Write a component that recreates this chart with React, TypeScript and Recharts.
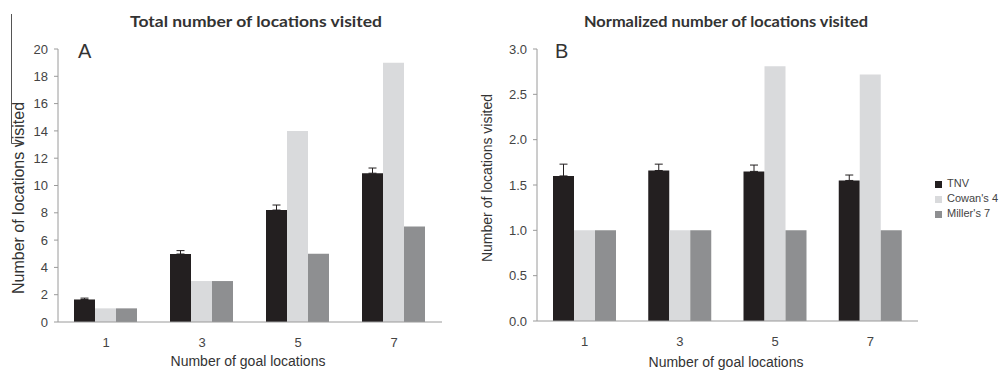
import React from 'react';
import { BarChart, Bar, XAxis, YAxis, ErrorBar, Legend } from 'recharts';

const goals = ['1', '3', '5', '7'];

// panel A - total locations visited
const tnvTotal = [1.65, 4.98, 8.2, 10.9];
const tnvTotalErr = [0.1, 0.25, 0.37, 0.38];
const cowanTotal = [1, 3, 14, 19];
const millerTotal = [1, 3, 5, 7];
const totalTicks = [0, 2, 4, 6, 8, 10, 12, 14, 16, 18, 20];

// panel B - normalized
const tnvNorm = [1.6, 1.66, 1.65, 1.55];
const tnvNormErr = [0.13, 0.07, 0.07, 0.06];
const cowanNorm = [1, 1, 2.81, 2.72];
const millerNorm = [1, 1, 1, 1];
const normTicks = [0, 0.5, 1, 1.5, 2, 2.5, 3];

const seriesOrder = ['TNV', "Cowan's 4", "Miller's 7"];

const BLACK = '#231f20';
const LIGHT = '#d9dadc';
const GRAY = '#8e8f91';
const AXIS = '#9a9a9a';
const FONT = '"Liberation Sans", Arial, sans-serif';

const totalData = goals.map((g, i) => ({
  goal: g,
  tnv: tnvTotal[i],
  err: tnvTotalErr[i],
  cowan: cowanTotal[i],
  miller: millerTotal[i],
}));

const normData = goals.map((g, i) => ({
  goal: g,
  tnv: tnvNorm[i],
  err: tnvNormErr[i],
  cowan: cowanNorm[i],
  miller: millerNorm[i],
}));

const tickStyle = { fontSize: 13, fill: '#444', fontFamily: FONT };

export default function App() {
  return (
    <div style={{ position: 'absolute', left: 0, top: 0, width: 1000, height: 372, background: '#fff', overflow: 'hidden' }}>
      <div style={{ position: 'absolute', left: 0, top: 0 }}>
        <BarChart
          width={460}
          height={372}
          data={totalData}
          margin={{ top: 49, right: 18, left: 0, bottom: 0 }}
          barCategoryGap={16}
          barGap={0}
        >
          <XAxis
            dataKey="goal"
            height={50}
            tickLine={false}
            tickMargin={10}
            stroke={AXIS}
            tick={tickStyle}
          />
          <YAxis
            width={58}
            domain={[0, 20]}
            ticks={totalTicks}
            interval={0}
            tickSize={4}
            tickMargin={6}
            stroke={AXIS}
            tick={tickStyle}
          />
          <Bar dataKey="tnv" name="TNV" fill={BLACK} isAnimationActive={false}>
            <ErrorBar dataKey={(d: any) => [0, d.err]} width={4} stroke={BLACK} strokeWidth={1} direction="y" />
          </Bar>
          <Bar dataKey="cowan" name="Cowan's 4" fill={LIGHT} isAnimationActive={false} />
          <Bar dataKey="miller" name="Miller's 7" fill={GRAY} isAnimationActive={false} />
        </BarChart>
      </div>

      <div style={{ position: 'absolute', left: 460, top: 0 }}>
        <BarChart
          width={540}
          height={372}
          data={normData}
          margin={{ top: 49, right: 82, left: 0, bottom: 0 }}
          barCategoryGap={16}
          barGap={0}
        >
          <XAxis
            dataKey="goal"
            height={51}
            tickLine={false}
            tickMargin={10}
            stroke={AXIS}
            tick={tickStyle}
          />
          <YAxis
            width={77}
            domain={[0, 3]}
            ticks={normTicks}
            interval={0}
            tickSize={4}
            tickMargin={6}
            stroke={AXIS}
            tick={tickStyle}
            tickFormatter={(v: number) => v.toFixed(1)}
          />
          <Legend
            layout="vertical"
            align="center"
            verticalAlign="middle"
            iconType="square"
            iconSize={7}
            itemSorter={(item: any) => seriesOrder.indexOf(item.value)}
            wrapperStyle={{ left: 475, top: 176, width: 90, fontSize: 11, lineHeight: '15px', fontFamily: FONT }}
            formatter={(v: string) => <span style={{ color: '#444', marginLeft: 1 }}>{v}</span>}
          />
          <Bar dataKey="tnv" name="TNV" fill={BLACK} isAnimationActive={false}>
            <ErrorBar dataKey={(d: any) => [0, d.err]} width={4} stroke={BLACK} strokeWidth={1} direction="y" />
          </Bar>
          <Bar dataKey="cowan" name="Cowan's 4" fill={LIGHT} isAnimationActive={false} />
          <Bar dataKey="miller" name="Miller's 7" fill={GRAY} isAnimationActive={false} />
        </BarChart>
      </div>

      {/* titles, panel letters and axis labels */}
      <svg width={1000} height={372} style={{ position: 'absolute', left: 0, top: 0, pointerEvents: 'none' }}>
        <path d="M11.5 14 V143.5 H22" stroke="#555" strokeWidth={1} fill="none" />
        <text x={130} y={27} textLength={252} lengthAdjust="spacingAndGlyphs" fontFamily="Lato, sans-serif" fontWeight="bold" fontSize={16} fill="#333">
          Total number of locations visited
        </text>
        <text x={584} y={27} textLength={284} lengthAdjust="spacingAndGlyphs" fontFamily="Lato, sans-serif" fontWeight="bold" fontSize={16} fill="#333">
          Normalized number of locations visited
        </text>
        <text x={78} y={58} fontFamily={FONT} fontSize={20} fill="#333">A</text>
        <text x={555} y={58} fontFamily={FONT} fontSize={20} fill="#333">B</text>
        <text x={248} y={366} textAnchor="middle" fontFamily={FONT} fontSize={14} fill="#333">
          Number of goal locations
        </text>
        <text x={726} y={367} textAnchor="middle" fontFamily={FONT} fontSize={14} fill="#333">
          Number of goal locations
        </text>
        <text x={0} y={0} transform="translate(23.5 198) rotate(-90)" textAnchor="middle" fontFamily={FONT} fontSize={16} fill="#333">
          Number of locations visited
        </text>
        <text x={0} y={0} transform="translate(492 178) rotate(-90)" textAnchor="middle" fontFamily={FONT} fontSize={14} fill="#333">
          Number of locations visited
        </text>
      </svg>
    </div>
  );
}
